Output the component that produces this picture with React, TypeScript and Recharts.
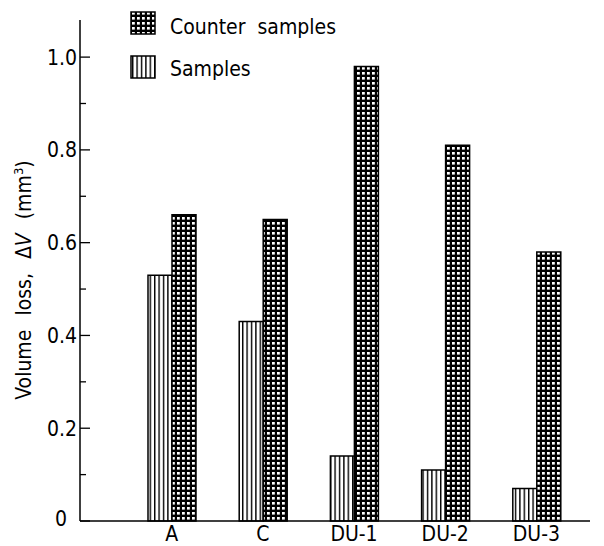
import React from "react";
import { BarChart, Bar, XAxis, YAxis } from "recharts";

const categories = ["A", "C", "DU-1", "DU-2", "DU-3"];
const samples = [0.53, 0.43, 0.14, 0.11, 0.07];
const counterSamples = [0.66, 0.65, 0.98, 0.81, 0.58];
const yTicks = [0, 0.1, 0.2, 0.3, 0.4, 0.5, 0.6, 0.7, 0.8, 0.9, 1.0];
const majorTicks = [0, 0.2, 0.4, 0.6, 0.8, 1.0];
const majorLabels = ["0", "0.2", "0.4", "0.6", "0.8", "1.0"];

const data = categories.map((name, i) => ({
  name,
  samples: samples[i],
  counter: counterSamples[i],
}));

const FONT = '"DejaVu Sans Condensed", "DejaVu Sans", sans-serif';

const YTick = (props: any) => {
  const { x, y, payload } = props;
  const v = payload.value;
  const idx = majorTicks.findIndex((t) => Math.abs(t - v) < 1e-6);
  const major = idx >= 0;
  return (
    <g>
      <line x1={x} x2={x + (major ? 10 : 6)} y1={y} y2={y} stroke="#000" strokeWidth={1.3} />
      {major && (
        <text
          x={v === 0 ? x - 13 : x - 3}
          y={v === 0 ? y - 3 : y}
          dy="0.36em"
          textAnchor="end"
          fontSize={21}
          fontFamily={FONT}
          fill="#000"
        >
          {majorLabels[idx]}
        </text>
      )}
    </g>
  );
};

const XTick = (props: any) => {
  const { x, payload } = props;
  return (
    <text x={x} y={541} textAnchor="middle" fontSize={21} fontFamily={FONT} fill="#000">
      {payload.value}
    </text>
  );
};

export default function App() {
  return (
    <div style={{ position: "absolute", left: 0, top: 0, width: 604, height: 546, background: "#fff" }}>
      <svg width={604} height={546} style={{ position: "absolute", left: 0, top: 0, pointerEvents: "none" }}>
        <defs>
          <pattern id="vlines" width={4.4} height={10} patternUnits="userSpaceOnUse">
            <rect width={4.4} height={10} fill="#fff" />
            <rect x={0} y={0} width={1.4} height={10} fill="#000" />
          </pattern>
          <pattern id="grid" width={5} height={5} patternUnits="userSpaceOnUse">
            <rect width={5} height={5} fill="#000" />
            <rect x={2} y={2} width={2.8} height={2.6} fill="#fff" />
          </pattern>
        </defs>
      </svg>
      <BarChart
        width={604}
        height={546}
        data={data}
        margin={{ top: 20, right: 14, bottom: 0, left: 30 }}
        barGap={0}
        style={{ position: "absolute", left: 0, top: 0 }}
      >
        <XAxis
          dataKey="name"
          height={25}
          padding={{ left: 46, right: 8 }}
          tickLine={false}
          axisLine={{ stroke: "#000", strokeWidth: 1.3 }}
          tick={<XTick />}
        />
        <YAxis
          width={50}
          domain={[0, 1.08]}
          ticks={yTicks}
          interval={0}
          tickSize={0}
          tickMargin={0}
          tickLine={false}
          axisLine={{ stroke: "#000", strokeWidth: 1.5 }}
          tick={<YTick />}
        />
        <Bar
          dataKey="samples"
          fill="url(#vlines)"
          stroke="#000"
          strokeWidth={1.5}
          barSize={24}
          isAnimationActive={false}
        />
        <Bar
          dataKey="counter"
          fill="url(#grid)"
          stroke="#000"
          strokeWidth={1.5}
          barSize={24}
          isAnimationActive={false}
        />
      </BarChart>
      <svg width={604} height={546} style={{ position: "absolute", left: 0, top: 0, pointerEvents: "none" }}>
        <rect x={131} y={12} width={24} height={22} fill="url(#grid)" stroke="#000" strokeWidth={1.5} />
        <text x={170} y={34} fontSize={21} fontFamily={FONT} fill="#000" wordSpacing={6}>
          Counter samples
        </text>
        <rect x={131} y={56} width={24} height={22} fill="url(#vlines)" stroke="#000" strokeWidth={1.5} />
        <text x={170} y={76} fontSize={21} fontFamily={FONT} fill="#000">
          Samples
        </text>
        <text
          x={0}
          y={0}
          transform="translate(31, 280) rotate(-90)"
          textAnchor="middle"
          fontSize={21}
          fontFamily={FONT}
          fill="#000"
          wordSpacing={8}
        >
          Volume loss, Δ<tspan fontStyle="italic">V</tspan> (mm
          <tspan fontSize={13} dy={-8}>3</tspan>
          <tspan dy={8}>)</tspan>
        </text>
      </svg>
    </div>
  );
}
